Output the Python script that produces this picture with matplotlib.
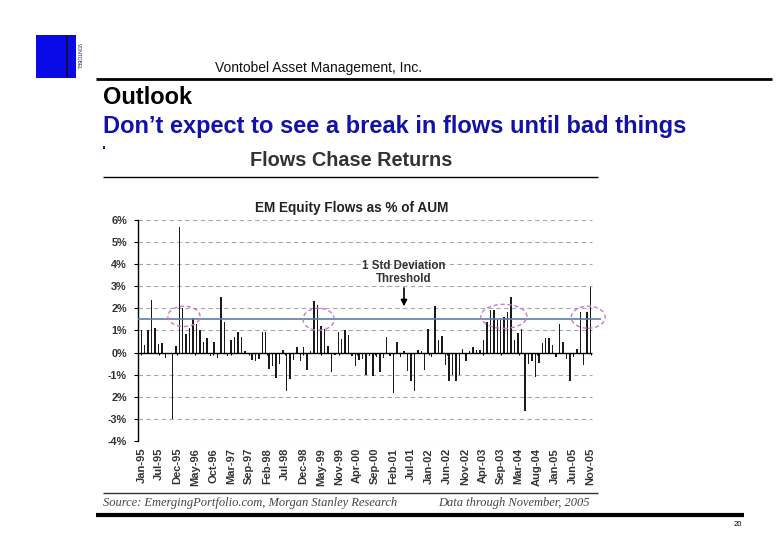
import numpy as np
import matplotlib
matplotlib.use("Agg")
import matplotlib.pyplot as plt
from matplotlib.lines import Line2D
from matplotlib.patches import Rectangle, Ellipse

# ---------------- data ----------------
flows_pct = [
    1.0, 0.35, 1.0, 2.4, 1.1, 0.4, 0.45, -0.25, -0.05, -3.0,
    0.3, 5.7, 2.0, 0.85, 1.1, 1.55, 1.3, 1.0, 0.5, 0.65,
    -0.15, 0.5, -0.25, 2.53, 1.4, -0.15, 0.55, 0.72, 0.95, 0.72,
    0.06, -0.06, -0.35, -0.4, -0.27, 0.95, 0.95, -0.72, -0.62, -1.15,
    -0.5, 0.13, -1.74, -1.2, -0.35, 0.27, -0.4, 0.27, -0.77, 0.09,
    2.35, 2.17, 1.22, 1.05, 0.32, -0.87, -0.12, 0.92, 0.63, 1.04,
    0.81, -0.15, -0.6, -0.35, -0.27, -1.0, -0.17, -1.05, -0.2, -0.87,
    -0.25, 0.72, -0.17, -1.82, 0.5, -0.2, 0.06, -0.85, -1.3, -1.75,
    0.12, 0.06, -0.77, 1.08, -0.2, 2.13, 0.57, 0.75, -0.55, -1.3,
    -1.0, -1.3, -1.0, 0.17, -0.4, 0.09, 0.26, 0.14, 0.14, 0.57,
    1.38, 1.94, 1.94, 1.49, 1.49, 1.62, 1.85, 2.53, 0.55, 0.87,
    1.08, -2.65, -0.5, -0.4, -1.1, -0.45, 0.42, 0.68, 0.68, 0.35,
    -0.18, 1.28, 0.5, -0.3, -1.3, -0.2, 0.18, 1.85, -0.55, 1.85,
    2.95,
]
threshold_pct = 1.52
x_tick_labels = ["Jan-95", "Jul-95", "Dec-95", "May-96", "Oct-96", "Mar-97",
                 "Sep-97", "Feb-98", "Jul-98", "Dec-98", "May-99", "Nov-99",
                 "Apr-00", "Sep-00", "Feb-01", "Jul-01", "Jan-02", "Jun-02",
                 "Nov-02", "Apr-03", "Sep-03", "Mar-04", "Aug-04", "Jan-05",
                 "Jun-05", "Nov-05"]
y_ticks = [6, 5, 4, 3, 2, 1, 0, -1, -2, -3, -4]
y_tick_labels = ["6%", "5%", "4%", "3%", "2%", "1%", "0%", "-1%", "2%", "-3%", "-4%"]

# ---------------- figure ----------------
W, H = 780, 540
fig = plt.figure(figsize=(W / 100, H / 100), dpi=100)
fig.patch.set_facecolor("white")
SANS = ["Liberation Sans", "DejaVu Sans"]
SERIF = ["Liberation Serif", "DejaVu Serif"]

def fx(x):
    return x / W

def fy(y):
    return 1 - y / H

def hline(x0, x1, y, lw, color="black"):
    fig.add_artist(Line2D([fx(x0), fx(x1)], [fy(y), fy(y)], transform=fig.transFigure,
                          color=color, lw=lw, solid_capstyle="butt"))

# logo
fig.add_artist(Rectangle((fx(36), fy(78)), fx(40), 43 / H, transform=fig.transFigure,
                         facecolor="#0a0ae6", edgecolor="none"))
fig.add_artist(Rectangle((fx(66), fy(78)), fx(2), 43 / H, transform=fig.transFigure,
                         facecolor="#101040", edgecolor="none"))
fig.add_artist(Rectangle((fx(76), fy(78)), fx(4.5), 43 / H, transform=fig.transFigure,
                         facecolor="white", edgecolor="none"))
fig.text(fx(78.2), fy(56.5), "VONTOBEL", rotation=270, ha="center", va="center",
         fontsize=3.6, color="#202060", family=SANS)

# header
fig.text(fx(215), fy(68), "Vontobel Asset Management, Inc.", ha="left", va="center",
         fontsize=10, color="#111111", family=SANS)
hline(96, 772, 79, 2)
fig.text(fx(103), fy(97), "Outlook", ha="left", va="center", fontsize=17,
         fontweight="bold", color="black", family=SANS)
fig.text(fx(103), fy(127), "Don\u2019t expect to see a break in flows until bad things",
         ha="left", va="center", fontsize=17, fontweight="bold", color="#1212a8", family=SANS)
# clipped remnant of the next title line
fig.add_artist(Rectangle((fx(103), fy(149)), fx(2.5), 3 / H, transform=fig.transFigure,
                         facecolor="#1a1a60", edgecolor="none"))
fig.text(fx(351), fy(161), "Flows Chase Returns", ha="center", va="center", fontsize=14.3,
         fontweight="bold", color="#333333", family=SANS)
hline(103, 598, 177, 1)

# chart title
fig.text(fx(352), fy(208), "EM Equity Flows as % of AUM", ha="center", va="center",
         fontsize=9.8, fontweight="bold", color="#222222", family=SANS)

# ---------------- axes ----------------
x_left, x_right = -0.95, 133.0
ax = fig.add_axes([fx(138), 1 - 441 / H, (601 - 138) / W, 221 / H])
ax.set_xlim(x_left, x_right)
ax.set_ylim(-4, 6)
ax.set_facecolor("white")

idx = np.arange(len(flows_pct))
grid_end = idx[-1] + 0.4

ax.hlines([t for t in y_ticks if t != 0], x_left, grid_end, colors="#a8a8a8",
          linestyles=(0, (4, 3)), lw=0.8, zorder=1)
ax.bar(idx, flows_pct, width=0.42, color="#1a1a1a", linewidth=0, zorder=3)
ax.hlines(0, x_left, grid_end, colors="black", lw=1.0, zorder=4)
ax.hlines(threshold_pct, x_left, x_right, colors="#5a7bb0", lw=1.2, zorder=5, clip_on=False)

tick_pos = np.linspace(0, idx[-1], len(x_tick_labels))
ax.vlines(tick_pos, -0.12, 0, colors="black", lw=0.8, zorder=4)

for s in ["top", "right", "bottom"]:
    ax.spines[s].set_visible(False)
ax.spines["left"].set_color("black")
ax.spines["left"].set_linewidth(1.0)

ax.set_yticks(y_ticks)
ax.set_yticklabels(y_tick_labels, fontsize=7.8, fontweight="bold", color="#333333", family=SANS)
ax.tick_params(axis="y", length=3, width=0.8, pad=5, color="black")
ax.set_xticks(tick_pos)
ax.set_xticklabels(x_tick_labels, rotation=90, fontsize=8, fontweight="bold",
                   color="#333333", family=SANS)
ax.tick_params(axis="x", length=0, pad=5)

# ellipses
for cx, cy, w, h in [(12.35, 1.64, 9.3, 0.92), (51.3, 1.51, 9.0, 1.0),
                     (104.9, 1.64, 13.3, 1.09), (129.3, 1.6, 9.8, 1.0)]:
    ax.add_patch(Ellipse((cx, cy), w, h, fill=False, edgecolor="#cc77cc",
                         linestyle=(0, (3, 2)), lw=1.0, zorder=6, clip_on=False))

# annotation
ax.text(76.0, 3.62, "1 Std Deviation\nThreshold", ha="center", va="center", fontsize=8.3,
        fontweight="bold", color="#333333", family=SANS, linespacing=1.05)
ax.annotate("", xy=(76.0, 1.97), xytext=(76.0, 3.05),
            arrowprops=dict(arrowstyle="-|>", color="black", lw=1.2, mutation_scale=9))

# footer
hline(103, 598, 493, 1, color="#333333")
fig.text(fx(103), fy(503), "Source: EmergingPortfolio.com, Morgan Stanley Research",
         ha="left", va="center", fontsize=9, style="italic", color="#444444", family=SERIF)
fig.text(fx(590), fy(503), "Data through November, 2005", ha="right", va="center",
         fontsize=9, style="italic", color="#444444", family=SERIF)
hline(96, 744, 515, 3)
fig.text(fx(742), fy(524), "20", ha="right", va="center", fontsize=5.5, color="black",
         family=SANS)

fig.savefig("out.png", dpi=100, facecolor="white")
